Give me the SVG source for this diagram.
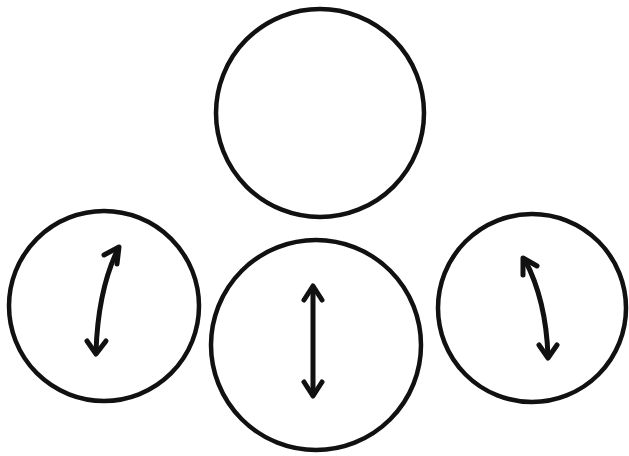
<svg xmlns="http://www.w3.org/2000/svg" width="629" height="456" viewBox="0 0 629 456">
<style>
.c{fill:none;stroke:#111;stroke-width:4.5}
.a{fill:none;stroke:#111;stroke-width:5;stroke-linecap:round;stroke-linejoin:round}
</style>
<rect width="629" height="456" fill="#fff"/>
<g id="top"><circle class="c" cx="320" cy="113" r="104"/></g>
<g id="left"><circle class="c" cx="104" cy="306" r="95"/></g>
<g id="middle"><circle class="c" cx="316" cy="345" r="105"/></g>
<g id="right"><circle class="c" cx="532" cy="308" r="94"/></g>
<g id="connectors">
<path class="a" d="M118 249 Q98 290 96 352"/>
<path class="a" d="M104 255 L119 247 L117 264"/>
<path class="a" d="M87 341 L96 354 L106 341"/>
<path class="a" d="M313 287 L313 395"/>
<path class="a" d="M304 300 L313 286 L322 300"/>
<path class="a" d="M304 382 L313 396 L322 382"/>
<path class="a" d="M525 260 Q546 300 548 356"/>
<path class="a" d="M523 275 L523 258 L537 266"/>
<path class="a" d="M539 345 L548 358 L557 345"/>
</g>
</svg>
